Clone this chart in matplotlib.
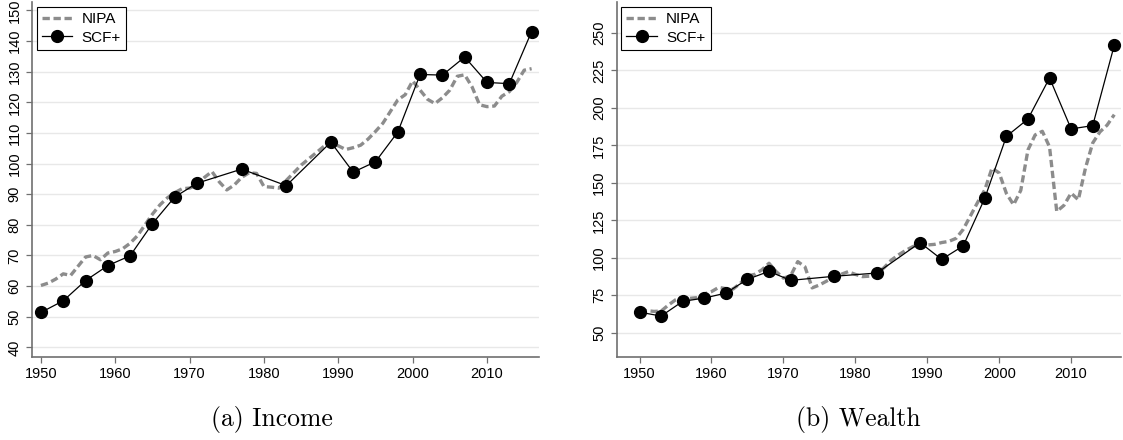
import matplotlib.pyplot as plt

# annual NIPA series, 1950-2016
nipa_years = list(range(1950, 2017))
nipa_income = [60.2, 61.0, 62.3, 64.0, 63.5, 66.5, 69.5, 70.0, 68.6, 70.8,
               71.3, 72.2, 74.0, 76.5, 80.0, 83.5, 86.5, 88.8, 90.5, 91.8,
               92.0, 93.0, 95.5, 97.4, 94.0, 91.4, 93.0, 95.5, 97.0, 96.8,
               92.5, 92.3, 92.0, 94.5, 97.0, 99.5, 101.5, 103.5, 105.5, 106.8,
               105.8, 104.6, 105.2, 106.0, 108.0, 110.5, 113.2, 117.0, 120.8, 122.5,
               127.0, 124.0, 121.0, 119.6, 121.5, 124.0, 128.5, 129.0, 125.0, 119.2,
               118.6, 118.8, 122.0, 123.5, 126.5, 130.5, 131.0]
nipa_wealth = [65.2, 64.8, 64.3, 64.5, 68.5, 72.0, 73.7, 73.0, 73.5, 75.9,
               77.5, 80.3, 79.5, 79.2, 83.0, 87.9, 89.0, 92.0, 96.4, 90.8,
               86.5, 88.0, 97.5, 94.0, 80.0, 81.9, 84.5, 87.0, 89.0, 90.8,
               89.0, 87.5, 87.8, 89.5, 93.5, 98.5, 102.0, 105.0, 107.5, 109.5,
               108.6, 109.0, 110.2, 111.0, 113.0, 119.0, 128.0, 137.0, 145.4, 159.9,
               156.6, 143.0, 135.4, 145.0, 172.0, 182.0, 184.4, 174.0, 131.0, 135.0,
               143.2, 138.7, 160.0, 176.6, 184.0, 188.5, 195.5]

# survey years
scf_years = [1950, 1953, 1956, 1959, 1962, 1965, 1968, 1971, 1977, 1983,
             1989, 1992, 1995, 1998, 2001, 2004, 2007, 2010, 2013, 2016]
scf_income = [51.4, 55.2, 61.8, 66.7, 69.9, 80.4, 89.1, 93.6, 98.2, 92.8,
              107.0, 97.2, 100.6, 110.3, 129.1, 128.9, 134.8, 126.5, 126.1, 143.1]
scf_wealth = [63.8, 61.2, 71.0, 73.2, 76.5, 85.7, 91.0, 85.0, 87.7, 89.9,
              110.2, 99.0, 108.0, 139.8, 181.0, 192.6, 220.0, 186.0, 188.2, 241.8]

x_ticks = [1950, 1960, 1970, 1980, 1990, 2000, 2010]
income_ticks = list(range(40, 151, 10))
wealth_ticks = list(range(50, 251, 25))

plt.rcParams['font.family'] = ['Liberation Sans', 'DejaVu Sans']

fig = plt.figure(figsize=(11.23, 4.40), dpi=100)
ax1 = fig.add_axes([0.0285, 0.189, 0.4515, 0.806])
ax2 = fig.add_axes([0.549, 0.189, 0.449, 0.806])

panels = [
    (ax1, nipa_income, scf_income, income_ticks, (1948.8, 2017.0), (36.9, 152.7),
     "(a) Income", 0.242),
    (ax2, nipa_wealth, scf_wealth, wealth_ticks, (1946.8, 2016.9), (34.0, 270.5),
     "(b) Wealth", 0.764),
]

for ax, nipa, scf, yticks, xlim, ylim, caption, cap_x in panels:
    ax.plot(nipa_years, nipa, color="#8c8c8c", lw=2.4, ls=(0, (2.2, 1.1)),
            label="NIPA", zorder=2)
    ax.plot(scf_years, scf, color="black", lw=0.9, marker="o", ms=8.5,
            label="SCF+", zorder=3)
    ax.set_xlim(*xlim)
    ax.set_ylim(*ylim)
    ax.set_xticks(x_ticks)
    ax.set_yticks(yticks)
    ax.grid(axis="y", color="#e8e8e8", lw=1.0)
    ax.set_axisbelow(True)
    for side in ["top", "right"]:
        ax.spines[side].set_visible(False)
    for side in ["left", "bottom"]:
        ax.spines[side].set_color("#707070")
        ax.spines[side].set_linewidth(1.2)
    ax.tick_params(colors="#707070", labelcolor="black", labelsize=10.5,
                   length=4, width=0.9)
    for lbl in ax.get_yticklabels():
        lbl.set_rotation(90)
        lbl.set_va("center")
    leg = ax.legend(loc="upper left", fontsize=11, handlelength=2.0,
                    fancybox=False, edgecolor="black", framealpha=1,
                    borderaxespad=0.3, borderpad=0.35, labelspacing=0.3,
                    handletextpad=0.6)
    leg.get_frame().set_linewidth(0.8)
    # panel caption below each subplot
    fig.text(cap_x, 0.046, caption, ha="center", va="center",
             fontsize=18.5, family=["cmr10", "DejaVu Serif"])

fig.savefig("out.png", dpi=100)
